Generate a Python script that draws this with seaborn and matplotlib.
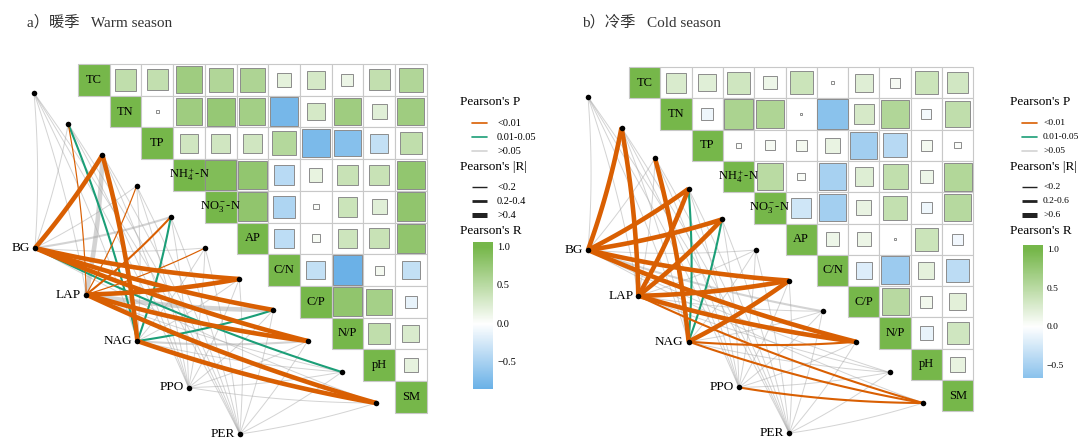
import numpy as np
import matplotlib
matplotlib.use('Agg')
import matplotlib.pyplot as plt
import seaborn as sns
from matplotlib.patches import Rectangle
from matplotlib.colors import LinearSegmentedColormap, Normalize

# ---------------- data ----------------
env_labels = ['TC', 'TN', 'TP', r'NH$_4^+$-N', r'NO$_3^-$-N', 'AP', 'C/N', 'C/P', 'N/P', 'pH', 'SM']
enzymes = ['BG', 'LAP', 'NAG', 'PPO', 'PER']

# upper triangle of Pearson's R, row by row (row i, columns i+1..10)
warm_r = [
    [0.46, 0.44, 0.70, 0.57, 0.59, 0.20, 0.31, 0.14, 0.44, 0.57],
    [0.01, 0.70, 0.76, 0.67, -0.78, 0.31, 0.70, 0.22, 0.70],
    [0.34, 0.34, 0.34, 0.54, -0.75, -0.68, -0.34, 0.46],
    [0.92, 0.79, -0.40, 0.17, 0.40, 0.40, 0.79],
    [0.80, -0.46, 0.03, 0.38, 0.22, 0.80],
    [-0.37, 0.06, 0.36, 0.40, 0.80],
    [-0.34, -0.84, 0.08, -0.34],
    [0.80, 0.65, -0.13],
    [0.46, 0.28],
    [0.18],
]
cold_r = [
    [0.28, 0.22, 0.35, 0.13, 0.38, 0.005, 0.23, 0.07, 0.38, 0.33],
    [-0.10, 0.61, 0.58, 0.005, -0.66, 0.30, 0.57, -0.07, 0.46],
    [0.02, 0.07, 0.085, 0.16, -0.53, -0.41, 0.085, 0.03],
    [0.50, 0.04, -0.50, 0.24, 0.45, 0.13, 0.56],
    [-0.27, -0.52, 0.16, 0.43, -0.09, 0.53],
    [0.13, 0.14, 0.003, 0.38, -0.085],
    [-0.19, -0.56, 0.19, -0.38],
    [0.52, 0.10, 0.21],
    [-0.13, 0.35],
    [0.17],
]

# enzyme -> env links: P class (0 <0.01, 1 0.01-0.05, 2 >0.05), |R| class (0,1,2)
warm_p = [
    [2, 2, 0, 2, 2, 2, 0, 0, 0, 1, 2],
    [2, 0, 2, 0, 0, 0, 0, 2, 0, 2, 0],
    [2, 1, 0, 2, 1, 2, 2, 1, 2, 2, 0],
    [2, 2, 2, 2, 2, 2, 2, 2, 2, 2, 2],
    [2, 2, 2, 2, 2, 2, 2, 2, 2, 2, 2],
]
warm_w = [
    [0, 0, 2, 0, 1, 0, 2, 2, 2, 1, 0],
    [0, 0, 2, 0, 1, 0, 2, 2, 2, 0, 2],
    [0, 1, 2, 0, 1, 0, 0, 1, 1, 0, 2],
    [0, 0, 0, 0, 0, 0, 0, 0, 0, 0, 0],
    [0, 0, 0, 0, 0, 0, 0, 0, 0, 0, 0],
]
cold_p = [
    [2, 0, 2, 0, 0, 2, 0, 2, 0, 2, 2],
    [2, 0, 2, 0, 0, 2, 0, 2, 0, 2, 0],
    [2, 2, 0, 1, 1, 2, 0, 2, 0, 2, 0],
    [2, 2, 2, 2, 2, 2, 2, 2, 2, 2, 0],
    [2, 2, 2, 2, 2, 2, 2, 2, 2, 2, 2],
]
cold_w = [
    [0, 2, 0, 2, 2, 0, 2, 1, 2, 0, 0],
    [0, 2, 0, 2, 2, 0, 2, 0, 2, 0, 1],
    [0, 0, 2, 1, 1, 0, 2, 0, 1, 0, 1],
    [0, 0, 0, 0, 0, 0, 0, 0, 0, 0, 1],
    [0, 0, 0, 0, 0, 0, 0, 0, 0, 0, 0],
]

p_labels = ['<0.01', '0.01-0.05', '>0.05']
warm_r_labels = ['<0.2', '0.2-0.4', '>0.4']
cold_r_labels = ['<0.2', '0.2-0.6', '>0.6']
cbar_ticks = [1.0, 0.5, 0.0, -0.5]

# ---------------- style ----------------
sns.set_theme(style='white')
plt.rcParams['font.family'] = ['Liberation Serif', 'Noto Sans CJK SC', 'DejaVu Sans']
plt.rcParams['mathtext.fontset'] = 'custom'
plt.rcParams['mathtext.rm'] = 'Liberation Serif'
plt.rcParams['mathtext.it'] = 'Liberation Serif:italic'
plt.rcParams['mathtext.bf'] = 'Liberation Serif:bold'

p_colors = ['#D95F02', '#1B9E77', '#A8A8A8']
p_alpha = [1.0, 1.0, 0.5]
line_w = [0.85, 1.5, 3.3]
gray_w = [0.7, 1.5, 3.3]
cmap = LinearSegmentedColormap.from_list('gwb', [(0, '#4fa3e3'), (0.5, '#ffffff'), (1, '#76b74a')])
norm = Normalize(-1, 1)

W, H = 1081, 441
fig = plt.figure(figsize=(W / 100, H / 100), dpi=100)
ax = fig.add_axes([0, 0, 1, 1])
ax.set_xlim(0, W)
ax.set_ylim(H, 0)
ax.axis('off')

geo_a = dict(gx=78, gy=64, cell=31.7, tx=34, ty=93, tdx=34.2, tdy=31.0,
             ex=35, ey=248, edx=51.2, edy=46.5, lx=460, lab_dx=37, lab_fs=7.5,
             cb_top=242, title=(27, 22))
geo_b = dict(gx=629, gy=67, cell=31.3, tx=588, ty=97, tdx=33.5, tdy=30.6,
             ex=588, ey=250, edx=50.3, edy=45.8, lx=1010, lab_dx=33, lab_fs=6.8,
             cb_top=245, title=(582, 22))


def full_matrix(rows):
    n = len(rows) + 1
    m = np.eye(n)
    for i, row in enumerate(rows):
        for k, v in enumerate(row):
            m[i, i + 1 + k] = v
    return m


def curve(x0, y0, x1, y1, bend=0.04):
    dx, dy = x1 - x0, y1 - y0
    cx = (x0 + x1) / 2 - dy * bend
    cy = (y0 + y1) / 2 + dx * bend
    t = np.linspace(0, 1, 40)
    xs = (1 - t) ** 2 * x0 + 2 * (1 - t) * t * cx + t ** 2 * x1
    ys = (1 - t) ** 2 * y0 + 2 * (1 - t) * t * cy + t ** 2 * y1
    return xs, ys


def draw_panel(g, rows, pcls, wcls, title, r_labels):
    m = full_matrix(rows)
    n = m.shape[0]
    off = np.abs(m[np.triu_indices(n, 1)])
    rmax = off.max()
    c = g['cell']

    # correlation triangle
    for i in range(n):
        for j in range(i, n):
            x0 = g['gx'] + j * c
            y0 = g['gy'] + i * c
            if i == j:
                ax.add_patch(Rectangle((x0, y0), c, c, facecolor=cmap(norm(1.0)),
                                       edgecolor='#c8c8c8', lw=0.8, zorder=1))
                ax.text(x0 + c / 2, y0 + c / 2, env_labels[i], ha='center', va='center',
                        fontsize=9, color='black', zorder=7)
            else:
                ax.add_patch(Rectangle((x0, y0), c, c, facecolor='white',
                                       edgecolor='#c8c8c8', lw=0.8, zorder=1))
                r = m[i, j]
                side = c * 0.97 * np.sqrt(abs(r) / rmax)
                ax.add_patch(Rectangle((x0 + (c - side) / 2, y0 + (c - side) / 2), side, side,
                                       facecolor=cmap(norm(r)), edgecolor='#8c8c8c',
                                       lw=0.7, zorder=2))

    # network
    tx = g['tx'] + np.arange(n) * g['tdx']
    ty = g['ty'] + np.arange(n) * g['tdy']
    ex = g['ex'] + np.arange(len(enzymes)) * g['edx']
    ey = g['ey'] + np.arange(len(enzymes)) * g['edy']
    for layer in (2, 1, 0):
        for e in range(len(enzymes)):
            for t in range(n):
                pc = pcls[e][t]
                if pc != layer:
                    continue
                xs, ys = curve(ex[e], ey[e], tx[t], ty[t])
                lw = gray_w[wcls[e][t]] if pc == 2 else line_w[wcls[e][t]]
                ax.plot(xs, ys, color=p_colors[pc], alpha=p_alpha[pc], lw=lw,
                        solid_capstyle='butt', zorder=3 if pc == 2 else 4)
    sns.scatterplot(x=np.concatenate([tx, ex]), y=np.concatenate([ty, ey]), color='black',
                    s=16, linewidth=0, ax=ax, zorder=6, legend=False)
    for e, name in enumerate(enzymes):
        ax.text(ex[e] - 5, ey[e], name, ha='right', va='center', fontsize=9.5, color='black')

    ax.text(g['title'][0], g['title'][1], title, ha='left', va='center', fontsize=11, color='#333333')

    # legends
    lx = g['lx']
    ldx = g['lab_dx']
    lfs = g['lab_fs']
    ax.text(lx, 102, "Pearson's P", ha='left', va='center', fontsize=9.5, color='black')
    for k, lab in enumerate(p_labels):
        y = 123 + k * 14
        ax.plot([lx + 12, lx + 27], [y, y], color=p_colors[k], alpha=p_alpha[k], lw=1.2)
        ax.text(lx + ldx, y, lab, ha='left', va='center', fontsize=lfs, color='black')
    ax.text(lx, 167, "Pearson's |R|", ha='left', va='center', fontsize=9.5, color='black')
    for k, lab in enumerate(r_labels):
        y = 187 + k * 14
        ax.plot([lx + 12, lx + 27], [y, y], color='#222222', lw=[1.0, 2.0, 3.6][k],
                solid_capstyle='butt')
        ax.text(lx + ldx, y, lab, ha='left', va='center', fontsize=lfs, color='black')
    ax.text(lx, 231, "Pearson's R", ha='left', va='center', fontsize=9.5, color='black')

    vmin, vmax = m.min(), 1.07
    px_per = 77.0
    top = g['cb_top']
    bot = top + (vmax - vmin) * px_per
    cx0, cx1 = lx + 13, lx + 33
    cax = fig.add_axes([cx0 / W, 1 - bot / H, (cx1 - cx0) / W, (bot - top) / H])
    grad = np.linspace(vmax, vmin, 200).reshape(-1, 1)
    cax.imshow(grad, cmap=cmap, norm=norm, aspect='auto', extent=[0, 1, vmin, vmax])
    cax.set_xlim(0, 1)
    cax.set_ylim(vmin, vmax)
    cax.axis('off')
    for tv in cbar_ticks:
        y = top + (vmax - tv) * px_per
        ax.plot([cx0, cx0 + 4], [y, y], color='white', lw=0.8, zorder=8)
        ax.plot([cx1 - 4, cx1], [y, y], color='white', lw=0.8, zorder=8)
        ax.text(cx1 + 4, y, f'{tv:.1f}'.replace('-', '\u2212'), ha='left', va='center',
                fontsize=lfs, color='black')


draw_panel(geo_a, warm_r, warm_p, warm_w, 'a）暖季   Warm season', warm_r_labels)
draw_panel(geo_b, cold_r, cold_p, cold_w, 'b）冷季   Cold season', cold_r_labels)

fig.savefig('out.png', dpi=100)
